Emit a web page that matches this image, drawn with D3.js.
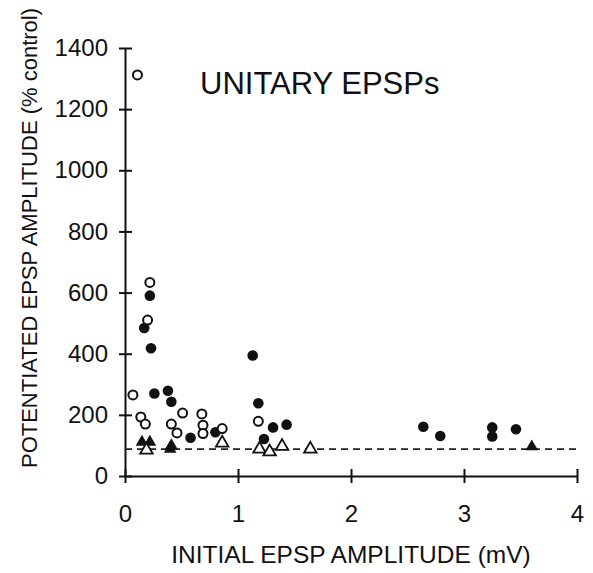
<!DOCTYPE html>
<html>
<head>
<meta charset="utf-8">
<script src="https://cdn.jsdelivr.net/npm/d3@7"></script>
<style>
  body { margin: 0; background: #fff; }
  svg text { font-family: "Liberation Sans", Arial, sans-serif; fill: #111; }
</style>
</head>
<body>
<script>
// values: [initial amplitude (mV), potentiated amplitude (% control)]
const filledCircles = [
  [0.22, 590], [0.17, 484], [0.23, 418], [0.26, 270], [0.38, 279], [0.41, 243],
  [0.58, 125], [0.80, 143], [1.13, 394], [1.18, 238], [1.31, 159], [1.43, 168],
  [1.23, 121], [2.64, 161], [2.79, 131], [3.25, 159], [3.25, 129], [3.46, 153]
];
const openCircles = [
  [0.11, 1312], [0.22, 633], [0.20, 510], [0.07, 265], [0.14, 193], [0.18, 170],
  [0.41, 170], [0.46, 141], [0.51, 206], [0.68, 203], [0.69, 166], [0.69, 139],
  [0.86, 155], [1.18, 179]
];
const filledTriangles = [[0.15, 111], [0.22, 111], [0.41, 100], [0.40, 88], [3.60, 96]];
const openTriangles = [[0.19, 85], [0.86, 108], [1.19, 88], [1.28, 79], [1.39, 97], [1.64, 88]];
const controlLevel = 88;

const xTicks = [0, 1, 2, 3, 4];
const yTicks = [0, 200, 400, 600, 800, 1000, 1200, 1400];

const WIDTH = 593, HEIGHT = 573;
const mLeft = 125, mRight = 577, mTop = 48, mBottom = 476;

const svg = d3.select("body").append("svg")
  .attr("width", WIDTH)
  .attr("height", HEIGHT);

const x = d3.scaleLinear().domain([0, 4]).range([mLeft, mRight]);
const y = d3.scaleLinear().domain([0, 1400]).range([mBottom, mTop]);

// axes
const xAxis = svg.append("g")
  .attr("transform", `translate(0,${mBottom})`)
  .call(d3.axisBottom(x).tickValues(xTicks).tickFormat(d3.format("d")).tickSize(7).tickSizeOuter(0));
xAxis.select(".domain").attr("stroke", "#111").attr("stroke-width", 2);
xAxis.selectAll(".tick line").attr("y1", -7).attr("stroke", "#111").attr("stroke-width", 2);
xAxis.selectAll(".tick text")
  .attr("y", 46).attr("dy", null)
  .style("font-size", "24px");

const yAxis = svg.append("g")
  .attr("transform", `translate(${mLeft},0)`)
  .call(d3.axisLeft(y).tickValues(yTicks).tickFormat(d3.format("d")).tickSize(6).tickSizeOuter(0).tickPadding(11));
yAxis.select(".domain").attr("stroke", "#111").attr("stroke-width", 2);
yAxis.selectAll(".tick line").attr("x1", 7).attr("stroke", "#111").attr("stroke-width", 2);
yAxis.selectAll(".tick text").style("font-size", "24px");

// dashed control line
svg.append("line")
  .attr("x1", x(0)).attr("x2", x(4))
  .attr("y1", y(controlLevel)).attr("y2", y(controlLevel))
  .attr("stroke", "#222")
  .attr("stroke-width", 1.6)
  .attr("stroke-dasharray", "7,5");

// points
svg.append("g").selectAll("circle")
  .data(filledCircles)
  .join("circle")
  .attr("cx", d => x(d[0]))
  .attr("cy", d => y(d[1]))
  .attr("r", 5.3)
  .attr("fill", "#111");

svg.append("g").selectAll("circle")
  .data(openCircles)
  .join("circle")
  .attr("cx", d => x(d[0]))
  .attr("cy", d => y(d[1]))
  .attr("r", 4.5)
  .attr("fill", "#fff")
  .attr("stroke", "#111")
  .attr("stroke-width", 2);

const tri = d3.symbol().type(d3.symbolTriangle).size(68);

svg.append("g").selectAll("path")
  .data(filledTriangles)
  .join("path")
  .attr("transform", d => `translate(${x(d[0])},${y(d[1])})`)
  .attr("d", tri)
  .attr("fill", "#111");

svg.append("g").selectAll("path")
  .data(openTriangles)
  .join("path")
  .attr("transform", d => `translate(${x(d[0])},${y(d[1])})`)
  .attr("d", tri)
  .attr("fill", "#fff")
  .attr("stroke", "#111")
  .attr("stroke-width", 1.8);

// labels
svg.append("text")
  .attr("x", 200)
  .attr("y", 94)
  .style("font-size", "31px")
  .text("UNITARY EPSPs");

svg.append("text")
  .attr("x", 351)
  .attr("y", 563)
  .attr("text-anchor", "middle")
  .style("font-size", "24.5px")
  .text("INITIAL EPSP AMPLITUDE (mV)");

svg.append("text")
  .attr("transform", "translate(37,238) rotate(-90)")
  .attr("text-anchor", "middle")
  .style("font-size", "22px")
  .text("POTENTIATED EPSP AMPLITUDE (% control)");
</script>
</body>
</html>
